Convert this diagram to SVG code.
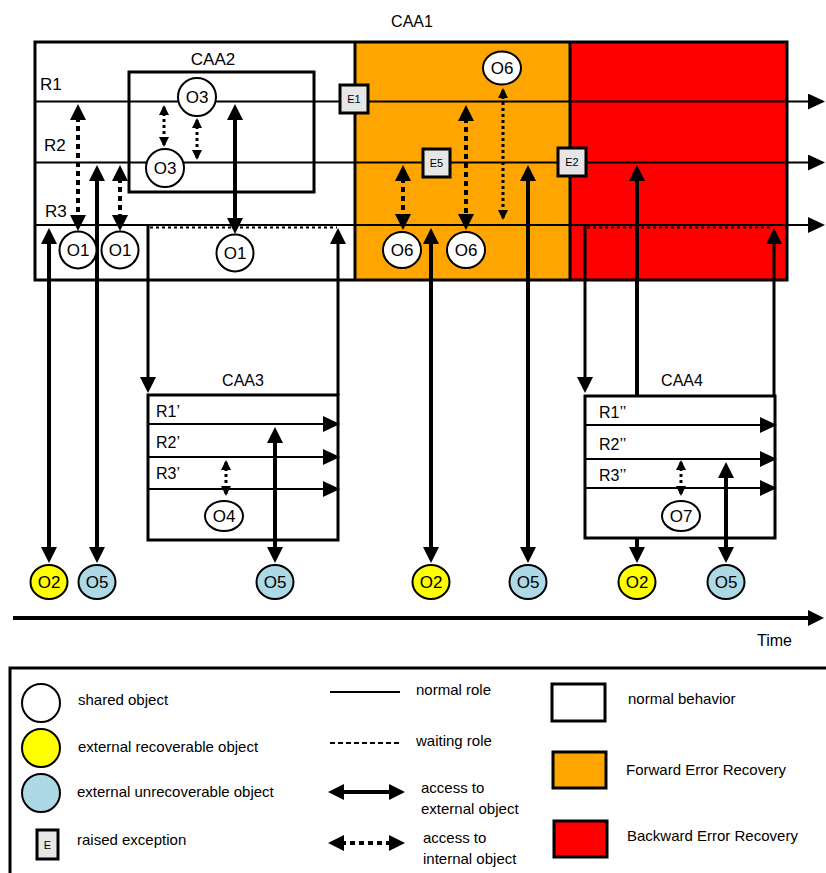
<svg xmlns="http://www.w3.org/2000/svg" width="826" height="873" viewBox="0 0 826 873">
<style>
text{font-family:"Liberation Sans",Arial,sans-serif;fill:#000}
.lbl{font-size:17px}
.obj{font-size:17px;text-anchor:middle}
.sm{font-size:15px}
.mid{font-size:16px}
.ex{font-size:11px;text-anchor:middle}
.role{stroke:#000;stroke-width:2;fill:none}
.wait{stroke:#000;stroke-width:2;stroke-dasharray:3 3;fill:none}
.acc{stroke:#000;stroke-width:4;fill:none}
.int{stroke:#000;stroke-width:4;stroke-dasharray:5 4;fill:none}
.ints{stroke:#000;stroke-width:3;stroke-dasharray:3 3;fill:none}
.box{stroke:#000;stroke-width:3}
.circ{stroke:#000;stroke-width:2}
.exc{fill:#e6e6e6;stroke:#000;stroke-width:3}
</style>
<defs>
<marker id="big" viewBox="0 0 16 16" refX="12" refY="8" markerWidth="16" markerHeight="16" markerUnits="userSpaceOnUse" orient="auto-start-reverse"><path d="M0,0 L16,8 L0,16 z"/></marker>
<marker id="ra" viewBox="0 0 17 16" refX="15" refY="8" markerWidth="17" markerHeight="16" markerUnits="userSpaceOnUse" orient="auto-start-reverse"><path d="M0,0 L17,8 L0,16 z"/></marker>
<marker id="sml" viewBox="0 0 10 10" refX="8" refY="5" markerWidth="10" markerHeight="10" markerUnits="userSpaceOnUse" orient="auto-start-reverse"><path d="M0,0 L10,5 L0,10 z"/></marker>
</defs>
<rect width="826" height="873" fill="#fff"/>

<g id="CAA1">
<rect x="35" y="42" width="320" height="238" fill="#fff"/>
<rect x="355" y="42" width="215" height="238" fill="#FFA500"/>
<rect x="570" y="42" width="217" height="238" fill="#FF0000"/>
<rect x="35" y="42" width="752" height="238" fill="none" class="box"/>
<line x1="355" y1="42" x2="355" y2="280" class="box"/>
<line x1="570" y1="42" x2="570" y2="280" class="box"/>
<text x="412" y="27" class="mid" text-anchor="middle">CAA1</text>
<text x="40" y="90" class="lbl">R1</text>
<text x="44" y="151" class="lbl">R2</text>
<text x="45" y="217" class="lbl">R3</text>
</g>

<g id="roles">
<line x1="35" y1="101.5" x2="823" y2="101.5" class="role" marker-end="url(#ra)"/>
<line x1="35" y1="162.5" x2="823" y2="162.5" class="role" marker-end="url(#ra)"/>
<line x1="35" y1="225" x2="823" y2="225" class="role" marker-end="url(#ra)"/>
<line x1="150" y1="227.5" x2="337" y2="227.5" class="wait"/>
<line x1="587" y1="227.5" x2="772" y2="227.5" class="wait"/>
</g>

<g id="CAA2">
<rect x="129" y="72" width="185" height="120" fill="none" class="box"/>
<text x="213" y="65" class="lbl" text-anchor="middle">CAA2</text>
</g>

<g id="CAA3">
<rect x="148" y="395" width="190" height="145" fill="#fff" class="box"/>
<text x="243" y="386" class="mid" text-anchor="middle">CAA3</text>
<line x1="148" y1="424" x2="338" y2="424" class="role" marker-end="url(#ra)"/>
<line x1="148" y1="457" x2="338" y2="457" class="role" marker-end="url(#ra)"/>
<line x1="148" y1="489" x2="338" y2="489" class="role" marker-end="url(#ra)"/>
<text x="156" y="417" class="mid">R1’</text>
<text x="156" y="448" class="mid">R2’</text>
<text x="156" y="479" class="mid">R3’</text>
</g>

<g id="CAA4">
<rect x="585" y="396" width="190" height="142" fill="#fff" class="box"/>
<text x="682" y="386" class="mid" text-anchor="middle">CAA4</text>
<line x1="585" y1="425" x2="775" y2="425" class="role" marker-end="url(#ra)"/>
<line x1="585" y1="459" x2="775" y2="459" class="role" marker-end="url(#ra)"/>
<line x1="585" y1="488" x2="775" y2="488" class="role" marker-end="url(#ra)"/>
<text x="599" y="418" class="mid">R1’’</text>
<text x="599" y="450" class="mid">R2’’</text>
<text x="599" y="481" class="mid">R3’’</text>
</g>

<g id="connectors">
<line x1="148" y1="225" x2="148" y2="389" class="acc" style="stroke-width:3" marker-end="url(#big)"/>
<line x1="338" y1="395" x2="338" y2="232" class="acc" style="stroke-width:3" marker-end="url(#big)"/>
<line x1="585" y1="225" x2="585" y2="389" class="acc" style="stroke-width:3" marker-end="url(#big)"/>
<line x1="774" y1="396" x2="774" y2="232" class="acc" style="stroke-width:3" marker-end="url(#big)"/>
<line x1="49" y1="232" x2="49" y2="559" class="acc" marker-start="url(#big)" marker-end="url(#big)"/>
<line x1="97" y1="169" x2="97" y2="559" class="acc" marker-start="url(#big)" marker-end="url(#big)"/>
<line x1="235" y1="108" x2="235" y2="230" class="acc" marker-start="url(#big)" marker-end="url(#big)"/>
<line x1="275" y1="431" x2="275" y2="559" class="acc" marker-start="url(#big)" marker-end="url(#big)"/>
<line x1="431" y1="232" x2="431" y2="559" class="acc" marker-start="url(#big)" marker-end="url(#big)"/>
<line x1="528" y1="169" x2="528" y2="559" class="acc" marker-start="url(#big)" marker-end="url(#big)"/>
<line x1="637" y1="169" x2="637" y2="396" class="acc" marker-start="url(#big)"/>
<line x1="637" y1="538" x2="637" y2="559" class="acc" marker-end="url(#big)"/>
<line x1="726" y1="466" x2="726" y2="559" class="acc" marker-start="url(#big)" marker-end="url(#big)"/>
<line x1="78" y1="108" x2="78" y2="227" class="int" marker-start="url(#big)" marker-end="url(#big)"/>
<line x1="120" y1="169" x2="120" y2="227" class="int" marker-start="url(#big)" marker-end="url(#big)"/>
<line x1="403" y1="169" x2="403" y2="226" class="int" marker-start="url(#big)" marker-end="url(#big)"/>
<line x1="466" y1="109" x2="466" y2="226" class="int" marker-start="url(#big)" marker-end="url(#big)"/>
<line x1="503" y1="90" x2="503" y2="218" class="ints" marker-start="url(#sml)" marker-end="url(#sml)"/>
<line x1="164" y1="107" x2="164" y2="145" class="ints" marker-start="url(#sml)" marker-end="url(#sml)"/>
<line x1="197" y1="120" x2="197" y2="158" class="ints" marker-start="url(#sml)" marker-end="url(#sml)"/>
<line x1="226" y1="462" x2="226" y2="494" class="ints" marker-start="url(#sml)" marker-end="url(#sml)"/>
<line x1="681" y1="462" x2="681" y2="494" class="ints" marker-start="url(#sml)" marker-end="url(#sml)"/>
</g>

<g id="O3a"><circle cx="197" cy="97" r="19" fill="#fff" class="circ"/><text x="197" y="103" class="obj">O3</text></g>
<g id="O3b"><circle cx="165" cy="168" r="19" fill="#fff" class="circ"/><text x="165" y="174" class="obj">O3</text></g>
<g id="O1a"><circle cx="78" cy="250" r="18.5" fill="#fff" class="circ"/><text x="78" y="256" class="obj">O1</text></g>
<g id="O1b"><circle cx="120" cy="250" r="18.5" fill="#fff" class="circ"/><text x="120" y="256" class="obj">O1</text></g>
<g id="O1c"><circle cx="235" cy="253" r="18.5" fill="#fff" class="circ"/><text x="235" y="259" class="obj">O1</text></g>
<g id="O6a"><ellipse cx="502" cy="68" rx="19" ry="16.5" fill="#fff" class="circ"/><text x="502" y="74" class="obj">O6</text></g>
<g id="O6b"><ellipse cx="402" cy="250" rx="19" ry="18" fill="#fff" class="circ"/><text x="402" y="256" class="obj">O6</text></g>
<g id="O6c"><ellipse cx="466" cy="250" rx="19" ry="18" fill="#fff" class="circ"/><text x="466" y="256" class="obj">O6</text></g>
<g id="O4"><ellipse cx="224" cy="516" rx="19" ry="15" fill="#fff" class="circ"/><text x="224" y="522" class="obj">O4</text></g>
<g id="O7"><ellipse cx="681" cy="516" rx="19" ry="15" fill="#fff" class="circ"/><text x="681" y="522" class="obj">O7</text></g>

<g id="E1"><rect x="340" y="85" width="28" height="28" class="exc"/><text x="354" y="103" class="ex">E1</text></g>
<g id="E5"><rect x="423" y="149" width="27" height="28" class="exc"/><text x="436.5" y="167" class="ex">E5</text></g>
<g id="E2"><rect x="558" y="148" width="28" height="28" class="exc"/><text x="572" y="166" class="ex">E2</text></g>

<g id="O2a"><ellipse cx="49" cy="582" rx="18.5" ry="17" fill="#FFFF00" class="circ"/><text x="49" y="588" class="obj">O2</text></g>
<g id="O5a"><ellipse cx="97" cy="582" rx="18.5" ry="17" fill="#ADD8E6" class="circ"/><text x="97" y="588" class="obj">O5</text></g>
<g id="O5b"><ellipse cx="275" cy="582" rx="18.5" ry="17" fill="#ADD8E6" class="circ"/><text x="275" y="588" class="obj">O5</text></g>
<g id="O2b"><ellipse cx="431" cy="582" rx="18.5" ry="17" fill="#FFFF00" class="circ"/><text x="431" y="588" class="obj">O2</text></g>
<g id="O5c"><ellipse cx="528" cy="582" rx="18.5" ry="17" fill="#ADD8E6" class="circ"/><text x="528" y="588" class="obj">O5</text></g>
<g id="O2c"><ellipse cx="637" cy="582" rx="18.5" ry="17" fill="#FFFF00" class="circ"/><text x="637" y="588" class="obj">O2</text></g>
<g id="O5d"><ellipse cx="726" cy="582" rx="18.5" ry="17" fill="#ADD8E6" class="circ"/><text x="726" y="588" class="obj">O5</text></g>

<g id="time">
<line x1="13" y1="618" x2="820" y2="618" class="acc" marker-end="url(#big)"/>
<text x="757" y="646" class="mid">Time</text>
</g>

<g id="legend">
<path d="M10,873 V668 H826" fill="none" stroke="#000" stroke-width="3"/>
<circle cx="41" cy="703" r="19" fill="#fff" class="circ"/>
<text x="78" y="705" class="sm">shared object</text>
<circle cx="41" cy="748" r="19" fill="#FFFF00" class="circ"/>
<text x="78" y="752" class="sm">external recoverable object</text>
<circle cx="41" cy="793" r="19" fill="#ADD8E6" class="circ"/>
<text x="77" y="797" class="sm">external unrecoverable object</text>
<rect x="37" y="830" width="21" height="29" class="exc"/>
<text x="47.5" y="849" class="ex">E</text>
<text x="77" y="845" class="sm">raised exception</text>
<line x1="330" y1="692" x2="400" y2="692" class="role"/>
<text x="416" y="695" class="sm">normal role</text>
<line x1="330" y1="743" x2="400" y2="743" class="wait" style="stroke-dasharray:5 3"/>
<text x="416" y="746" class="sm">waiting role</text>
<line x1="332" y1="792" x2="401" y2="792" class="acc" marker-start="url(#big)" marker-end="url(#big)"/>
<text x="421" y="793" class="sm">access to</text>
<text x="421" y="814" class="sm">external object</text>
<line x1="332" y1="843" x2="401" y2="843" class="int" marker-start="url(#big)" marker-end="url(#big)"/>
<text x="423" y="843" class="sm">access to</text>
<text x="423" y="864" class="sm">internal object</text>
<rect x="552" y="684" width="53" height="37" fill="#fff" class="box"/>
<text x="628" y="704" class="sm">normal behavior</text>
<rect x="553" y="752" width="53" height="36" fill="#FFA500" class="box"/>
<text x="626" y="775" class="sm">Forward Error Recovery</text>
<rect x="554" y="821" width="53" height="36" fill="#FF0000" class="box"/>
<text x="627" y="841" class="sm">Backward Error Recovery</text>
</g>
</svg>
